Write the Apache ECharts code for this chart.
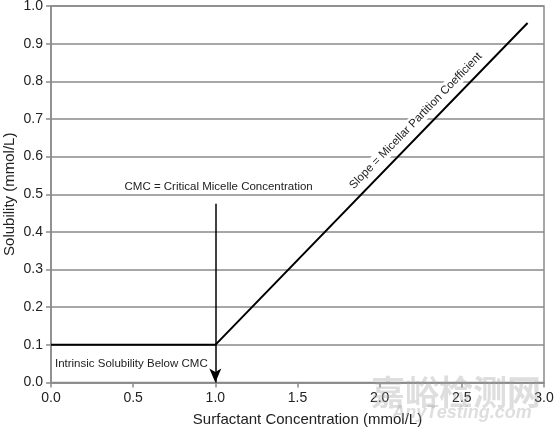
<!DOCTYPE html>
<html>
<head>
<meta charset="utf-8">
<script src="https://cdn.jsdelivr.net/npm/echarts@6/dist/echarts.min.js"></script>
<style>
html,body{margin:0;padding:0;background:#fff;}
#c{width:554px;height:427px;}
</style>
</head>
<body>
<div id="c"></div>
<script>
const concentration = [0.0, 1.0, 2.9];
const solubility = [0.1, 0.1, 0.955];
const cmcArrowX = [1.0, 1.0];
const cmcArrowY = [0.475, 0.0];
const xAxisRange = [0, 3, 0.5];
const yAxisRange = [0, 1, 0.1];
const xAxisTitle = 'Surfactant Concentration (mmol/L)';
const yAxisTitle = 'Solubility (mmol/L)';
const cmcNote = { text: 'CMC = Critical Micelle Concentration', x: 1.02, y: 0.52 };
const intrinsicNote = { text: 'Intrinsic Solubility Below CMC', x: 0.024, y: 0.05 };
const slopeNote = { text: 'Slope = Micellar Partition Coefficient', x: 2.22, y: 0.695 };

const FONT = 'Liberation Sans, Arial, Helvetica, sans-serif';
const chart = echarts.init(document.getElementById('c'));
const lineData = concentration.map((x, i) => [x, solubility[i]]);

chart.setOption({
  animation: false,
  backgroundColor: '#fff',
  grid: { left: 51, right: 10, top: 6, bottom: 44.5, show: true, borderColor: '#8a8a8a', borderWidth: 1.5,
    containLabel: false, outerBoundsMode: 'none' },
  xAxis: {
    type: 'value', min: xAxisRange[0], max: xAxisRange[1], interval: xAxisRange[2],
    name: xAxisTitle, nameLocation: 'middle', nameGap: 30,
    nameTextStyle: { fontFamily: FONT, fontSize: 15, color: '#222', padding: [0, 0, 0, 20] },
    axisLine: { show: true, lineStyle: { color: '#8a8a8a', width: 1.5 } },
    axisTick: { show: true, length: 5, lineStyle: { color: '#8a8a8a', width: 1.5 } },
    axisLabel: { fontFamily: FONT, fontSize: 14, color: '#222', margin: 9, formatter: v => v.toFixed(1) },
    splitLine: { show: false }
  },
  yAxis: {
    type: 'value', min: yAxisRange[0], max: yAxisRange[1], interval: yAxisRange[2],
    name: yAxisTitle, nameLocation: 'middle', nameGap: 34, nameRotate: 90, nameMoveOverlap: false,
    nameTextStyle: { fontFamily: FONT, fontSize: 15, color: '#222' },
    axisLine: { show: true, lineStyle: { color: '#8a8a8a', width: 1.5 } },
    axisTick: { show: true, length: 5, lineStyle: { color: '#8a8a8a', width: 1.5 } },
    axisLabel: { fontFamily: FONT, fontSize: 14, color: '#222', margin: 8, formatter: v => v.toFixed(1) },
    splitLine: { show: true, lineStyle: { color: '#8a8a8a', width: 1.5 } }
  },
  series: [
    {
      type: 'line', data: lineData, symbol: 'none', z: 5,
      lineStyle: { color: '#000', width: 2 },
      markLine: {
        silent: true, symbol: ['none', 'arrow'], symbolSize: [9, 14],
        lineStyle: { color: '#000', width: 1.5, type: 'solid' },
        label: { show: false },
        data: [[{ coord: [cmcArrowX[0], cmcArrowY[0]] }, { coord: [cmcArrowX[1], cmcArrowY[1]] }]]
      }
    }
  ]
});

function px(x, y) { return chart.convertToPixel({ gridIndex: 0 }, [x, y]); }
const pC = px(cmcNote.x, cmcNote.y);
const pI = px(intrinsicNote.x, intrinsicNote.y);
const pS = px(slopeNote.x, slopeNote.y);
const p0 = px(concentration[1], solubility[1]);
const p1 = px(concentration[2], solubility[2]);
const ang = Math.atan2(p0[1] - p1[1], p1[0] - p0[0]);

chart.setOption({
  graphic: [
    { type: 'text', x: pC[0], y: pC[1], z: 10,
      style: { text: cmcNote.text, fontFamily: FONT, fontSize: 11.5, fill: '#222', align: 'center', verticalAlign: 'middle' } },
    { type: 'text', x: pI[0], y: pI[1], z: 10,
      style: { text: intrinsicNote.text, fontFamily: FONT, fontSize: 11.5, fill: '#222', align: 'left', verticalAlign: 'middle' } },
    { type: 'text', x: pS[0], y: pS[1], rotation: ang, z: 10,
      style: { text: slopeNote.text, fontFamily: FONT, fontSize: 11.5, fill: '#222', align: 'center', verticalAlign: 'middle',
        backgroundColor: '#fff', padding: [1, 3] } },
    { type: 'text', x: 456, y: 392, z: 20,
      style: { text: '嘉峪检测网', fontFamily: 'Noto Sans CJK SC', fontSize: 34, fontWeight: 'bold', fill: 'rgba(160,160,160,0.35)', align: 'center', verticalAlign: 'middle' } },
    { type: 'text', x: 462, y: 413, z: 20,
      style: { text: 'AnyTesting.com', fontFamily: FONT, fontSize: 18, fontStyle: 'italic', fontWeight: 'bold', fill: 'rgba(160,160,160,0.35)', align: 'center', verticalAlign: 'middle' } }
  ]
});
</script>
</body>
</html>
